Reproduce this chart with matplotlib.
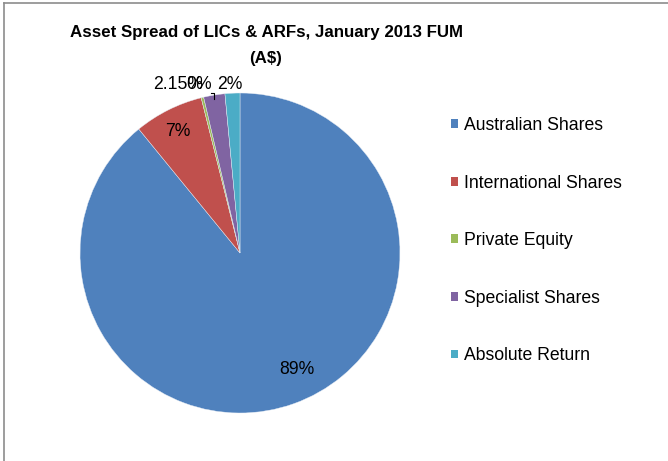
import matplotlib
matplotlib.use("Agg")
import matplotlib.pyplot as plt
from matplotlib.patches import Patch
from matplotlib.lines import Line2D

plt.rcParams['font.family'] = ['Liberation Sans', 'DejaVu Sans']

categories = ["Australian Shares", "International Shares", "Private Equity",
              "Specialist Shares", "Absolute Return"]
values = [89.1, 7.0, 0.25, 2.15, 1.5]
label_texts = ["89%", "7%", "0%", "2.15%", "2%"]
colors = ["#4F81BD", "#C0504D", "#9BBB59", "#8064A2", "#4BACC6"]

W, H = 668, 461
fig = plt.figure(figsize=(W / 100, H / 100), dpi=100)

# pie axes: center (240,253) px, radius 160 px
cx, cy, r = 240, 253, 160
ax = fig.add_axes([(cx - r) / W, 1 - (cy + r) / H, 2 * r / W, 2 * r / H])
wedges, _ = ax.pie(values, colors=colors, startangle=90, counterclock=False,
                   wedgeprops=dict(edgecolor="#e8eef6", linewidth=0.3))
ax.set_xlim(-1, 1)
ax.set_ylim(-1, 1)
ax.set_aspect("auto")
ax.axis("off")

# data labels (positions in pie data units)
label_pos = [(0.353, -0.725), (-0.3875, 0.7625), (-0.253, 1.05),
             (-0.3875, 1.05), (-0.0625, 1.05)]
for txt, (x, y) in zip(label_texts, label_pos):
    ax.text(x, y, txt, ha="center", va="center", fontsize=12.7,
            color="black", clip_on=False)
# leader line for Private Equity label
ax.add_line(Line2D([-0.18, -0.16, -0.16], [1.0, 1.0, 0.96],
                   color="black", lw=0.8, clip_on=False))

# title
fig.text(266 / W, 1 - 32 / H, "Asset Spread of LICs & ARFs, January 2013 FUM",
         ha="center", va="center", fontsize=12.2, fontweight="bold")
fig.text(266 / W, 1 - 59 / H, "(A$)", ha="center", va="center",
         fontsize=12.2, fontweight="bold")

# legend
handles = [Patch(facecolor=c, edgecolor="none") for c in colors]
fig.legend(handles, categories, loc="upper left",
           bbox_to_anchor=(451 / W, 1 - 117 / H), frameon=False,
           fontsize=12.7, labelspacing=2.3, handlelength=0.4,
           handleheight=0.4, handletextpad=0.35, borderpad=0,
           borderaxespad=0)

# chart frame (top and left visible)
fig.add_artist(Line2D([4 / W, 1], [1 - 3.5 / H, 1 - 3.5 / H],
                      transform=fig.transFigure, color="#8c8c8c", lw=1.2))
fig.add_artist(Line2D([4 / W, 4 / W], [0, 1 - 3.5 / H],
                      transform=fig.transFigure, color="#8c8c8c", lw=1.2))

fig.savefig("out.png", dpi=100)
